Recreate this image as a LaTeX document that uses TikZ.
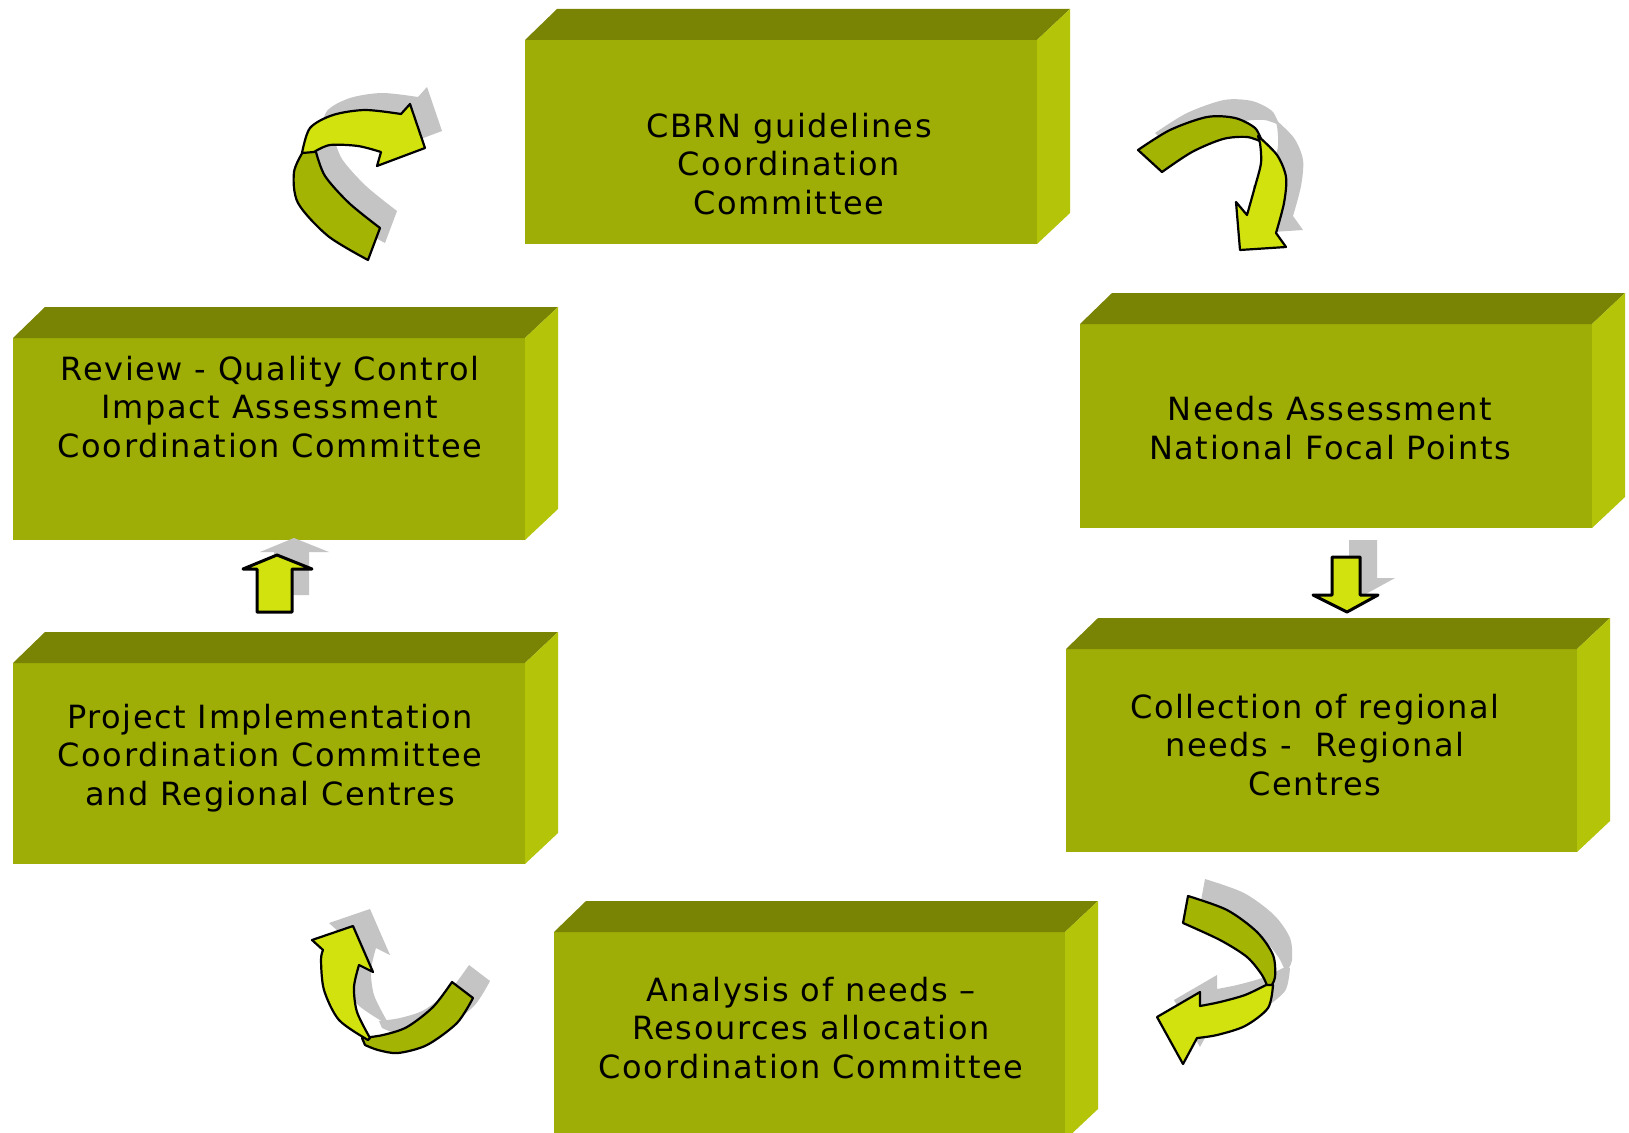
\documentclass[tikz,border=0pt]{standalone}
\usepackage{fontspec}
\setmainfont{DejaVu Sans}[LetterSpace=5]
\begin{document}
\definecolor{frontc}{RGB}{158,174,6}
\definecolor{topc}{RGB}{122,132,4}
\definecolor{sidec}{RGB}{180,196,8}
\definecolor{brightc}{RGB}{210,226,14}
\definecolor{darkc}{RGB}{164,180,2}
\definecolor{shadowc}{RGB}{196,196,196}
\tikzset{
  lbl/.style={align=center,inner sep=0pt,text=black,
    font=\fontsize{32}{38.5}\selectfont},
  ribbon/.style={draw=black,line width=2.2pt,line join=round},
  shade/.style={fill=shadowc},
}
% a solid block: front face x1 y1 x2 y2, with top and right faces
\newcommand\slab[4]{%
  \fill[frontc] (#1,#2) rectangle (#3,#4);
  \fill[topc] (#1,#2) -- (#1+32,#2-31) -- (#3+33,#2-31) -- (#3,#2) -- cycle;
  \fill[sidec] (#3,#2) -- (#3+33,#2-31) -- (#3+33,#4-31) -- (#3,#4) -- cycle;
}
% curved ribbon arrows: back (dark) part and front part with head
\def\tlDark{plot[smooth] coordinates {(304,150) (294,172) (298,203) (328,236) (368,260)} -- (380,228) -- plot[smooth] coordinates {(380,228) (349,203) (325,176) (316,152)} -- cycle}
\def\tlBright{plot[smooth] coordinates {(302,153) (310,128) (333,115) (365,110) (401,114)} -- (410,104) -- (425,148) -- (377,166) -- (381,152) -- plot[smooth] coordinates {(381,152) (358,146) (330,145) (314,152)} -- cycle}
\def\trDark{plot[smooth] coordinates {(1138,150) (1170,130) (1207,117) (1235,118) (1255,128) (1262,142)} -- plot[smooth] coordinates {(1262,142) (1247,137) (1223,139) (1192,152) (1162,172)} -- cycle}
\def\trBright{plot[smooth] coordinates {(1258,136) (1277,155) (1286,177) (1284,203) (1276,233)} -- (1286,247) -- (1240,250) -- (1236,202) -- (1247,215) -- plot[smooth] coordinates {(1247,215) (1254,190) (1261,163) (1260,143)} -- cycle}
\def\brDark{plot[smooth] coordinates {(1188,896) (1227,910) (1257,932) (1273,955) (1275,977) (1270,988)} -- plot[smooth] coordinates {(1268,988) (1262,975) (1247,957) (1220,940) (1183,923)} -- cycle}
\def\brBright{plot[smooth] coordinates {(1273,985) (1268,1008) (1245,1026) (1217,1035) (1197,1038)} -- (1183,1064) -- (1157,1017) -- (1200,992) -- (1200,1006) -- plot[smooth] coordinates {(1200,1006) (1220,1002) (1245,995) (1266,985)} -- cycle}
\def\blDark{plot[smooth] coordinates {(452,982) (433,1007) (407,1027) (383,1035) (362,1038)} -- plot[smooth] coordinates {(365,1045) (378,1050) (398,1053) (427,1045) (457,1023) (473,998)} -- cycle}
\def\blBright{plot[smooth] coordinates {(368,1040) (339,1020) (324,990) (321,960) (323,950)} -- (312,940) -- (353,926) -- (373,972) -- (359,965) -- plot[smooth] coordinates {(359,965) (354,987) (357,1012) (370,1038)} -- cycle}
\def\upArr{(257,612) -- (257,569) -- (243,569) -- (277,555) -- (312,569) -- (292,569) -- (292,612) -- cycle}
\def\downArr{(1332,557) -- (1360,557) -- (1360,595) -- (1378,595) -- (1347,612) -- (1313,595) -- (1332,595) -- cycle}
\begin{tikzpicture}[x=1pt,y=-1pt]
\useasboundingbox (0,0) rectangle (1629,1132);
\clip (0,0) rectangle (1629,1132);
\fill[white] (0,0) rectangle (1629,1132);

% blocks
\slab{525}{40}{1037}{244}
\slab{1080}{324}{1592}{528}
\slab{1066}{649}{1577}{852}
\slab{554}{932}{1065}{1140}
\slab{13}{663}{525}{864}
\slab{13}{338}{525}{540}

\node[lbl] (cbrn) at (789,164) {CBRN guidelines\\Coordination\\Committee};
\node[lbl] (needs) at (1330,428) {Needs Assessment\\National Focal Points};
\node[lbl] (collect) at (1315,745) {Collection of regional\\needs -\ \ Regional\\Centres};
\node[lbl] (analysis) at (811,1028) {Analysis of needs –\\Resources allocation\\Coordination Committee};
\node[lbl] (project) at (270,758) {Project Implementation\\Coordination Committee\\and Regional Centres};
\node[lbl] (review) at (270,407) {Review - Quality Control\\Impact Assessment\\Coordination Committee};

% shadows of the arrows
\begin{scope}[shift={(17,-17)}]
  \fill[shade] \tlDark; \fill[shade] \tlBright;
  \fill[shade] \trDark; \fill[shade] \trBright;
  \fill[shade] \brDark; \fill[shade] \brBright;
  \fill[shade] \blDark; \fill[shade] \blBright;
  \fill[shade] \upArr; \fill[shade] \downArr;
\end{scope}

% arrows
\filldraw[ribbon,fill=darkc] \tlDark;
\filldraw[ribbon,fill=brightc] \tlBright;
\filldraw[ribbon,fill=darkc] \trDark;
\filldraw[ribbon,fill=brightc] \trBright;
\filldraw[ribbon,fill=darkc] \brDark;
\filldraw[ribbon,fill=brightc] \brBright;
\filldraw[ribbon,fill=darkc] \blDark;
\filldraw[ribbon,fill=brightc] \blBright;
\filldraw[ribbon,line width=3pt,fill=brightc] \upArr;
\filldraw[ribbon,line width=3pt,fill=brightc] \downArr;
\end{tikzpicture}
\end{document}
